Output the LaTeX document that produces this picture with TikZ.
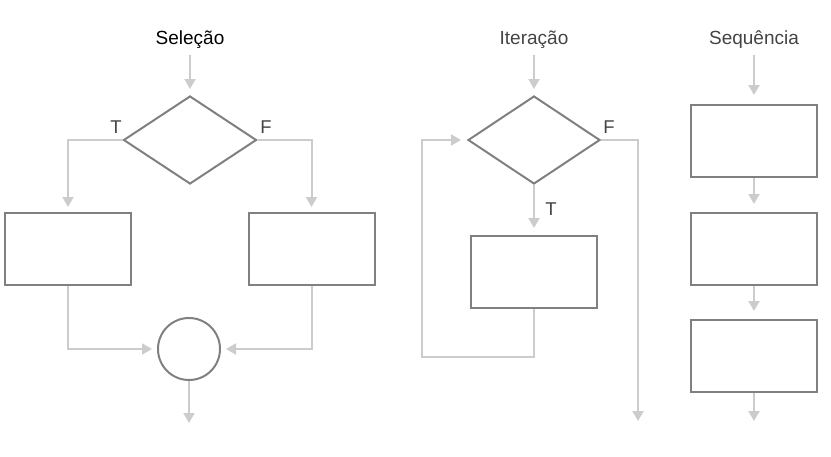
\documentclass[tikz,border=0pt]{standalone}
\usepackage{fontspec}
\setmainfont{Liberation Sans}
\usetikzlibrary{shapes.geometric,arrows.meta}
\definecolor{shapegray}{HTML}{808080}
\definecolor{linkgray}{HTML}{CCCCCC}
\definecolor{textgray}{HTML}{444444}

\begin{document}
\begin{tikzpicture}[x=1pt, y=-1pt,
    box/.style={draw=shapegray, line width=2pt, minimum width=126pt, minimum height=72pt, inner sep=0pt},
    test/.style={draw=shapegray, line width=2pt, diamond, minimum width=133pt, minimum height=88pt, inner sep=0pt},
    joint/.style={draw=shapegray, line width=2pt, circle, minimum size=62pt, inner sep=0pt},
    title/.style={font=\fontsize{19}{21}\selectfont, text=textgray, text height=13.5pt, text depth=4pt, inner sep=0pt},
    flag/.style={font=\fontsize{18.5}{20}\selectfont, text=textgray, inner sep=0pt},
    link/.style={draw=linkgray, line width=2pt, -{Triangle[length=10pt, width=11pt]}}]
    \useasboundingbox (0, 0) rectangle (831, 456);
    % Selecao
    \node[title, text=black] (14) at (190, 39.5) {Seleção};
    \node[test] (10) at (190, 140) {};
    \node[box] (11) at (68, 249) {};
    \node[box] (12) at (311.5, 249) {};
    \node[joint] (13) at (189, 349) {};
    \coordinate (15) at (189, 423);
    \node[flag] (16) at (116, 127) {T};
    \node[flag] (17) at (266, 127) {F};
    \draw [link, shorten <=6.5pt, shorten >=6pt] (14) to (10);
    \draw [link, shorten >=5pt] (10.west) -| (11.north);
    \draw [link, shorten >=5pt] (10.east) -| (12.north);
    \draw [link, shorten >=5pt] (11.south) |- (13.west);
    \draw [link, shorten >=5pt] (12.south) |- (13.east);
    \draw [link] (13) to (15);
    % Iteracao
    \node[title] (24) at (534, 39.5) {Iteração};
    \node[test, minimum width=132pt] (20) at (534, 140) {};
    \node[box] (21) at (534, 272) {};
    \node[flag] (22) at (551, 209) {T};
    \node[flag] (23) at (609, 127) {F};
    \coordinate (25) at (422, 357);
    \coordinate (26) at (638, 421);
    \draw [link, shorten <=6.5pt, shorten >=6pt] (24) to (20);
    \draw [link, shorten >=7pt] (20.south) to (21.north);
    \draw [link, shorten >=6pt] (21.south) |- (25) |- (20.west);
    \draw [link] (20.east) -| (26);
    % Sequencia
    \node[title] (34) at (754, 39.5) {Sequência};
    \node[box] (31) at (754, 141) {};
    \node[box] (32) at (754, 249) {};
    \node[box] (33) at (754, 356) {};
    \coordinate (35) at (754, 421);
    \draw [link, shorten <=6.5pt, shorten >=9pt] (34) to (31);
    \draw [link, shorten >=8pt] (31) to (32);
    \draw [link, shorten >=8pt] (32) to (33);
    \draw [link] (33) to (35);
\end{tikzpicture}
\end{document}
